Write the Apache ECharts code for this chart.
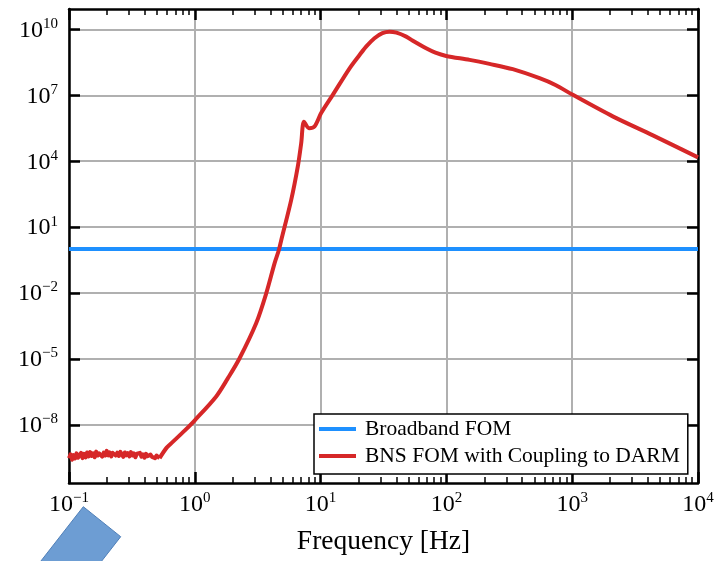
<!DOCTYPE html>
<html>
<head>
<meta charset="utf-8">
<script src="https://cdn.jsdelivr.net/npm/echarts@6/dist/echarts.min.js"></script>
<style>
  html, body { margin: 0; padding: 0; background: #fff; }
  #chart { width: 721px; height: 561px; }
</style>
</head>
<body>
<div id="chart"></div>
<script>
// Frequency in Hz, figures of merit as plain (linear) values
const broadbandFreq = [0.1, 10000];
const broadbandFom = [1, 1];

// Low-frequency noise floor of the BNS figure of merit
const noiseFreq = [
  0.1000, 0.1028, 0.1057, 0.1086, 0.1117, 0.1148, 0.1180, 0.1213, 0.1247, 0.1282,
  0.1318, 0.1355, 0.1393, 0.1432, 0.1472, 0.1514, 0.1556, 0.1600, 0.1644, 0.1690,
  0.1738, 0.1786, 0.1837, 0.1888, 0.1941, 0.1995, 0.2051, 0.2109, 0.2168, 0.2228,
  0.2291, 0.2355, 0.2421, 0.2489, 0.2559, 0.2630, 0.2704, 0.2780, 0.2858, 0.2938,
  0.3020, 0.3105, 0.3192, 0.3281, 0.3373, 0.3467, 0.3565, 0.3664, 0.3767, 0.3873,
  0.3981, 0.4093, 0.4207, 0.4325, 0.4446, 0.4571, 0.4699, 0.4831, 0.4966, 0.5105, 0.5248
];
const noiseFom = [
  3.02e-10, 4.47e-10, 2.57e-10, 4.17e-10, 2.95e-10, 5.01e-10, 3.16e-10, 4.17e-10, 5.25e-10, 3.02e-10,
  4.79e-10, 3.31e-10, 5.50e-10, 3.63e-10, 5.75e-10, 3.80e-10, 5.01e-10, 3.31e-10, 6.03e-10, 3.98e-10,
  5.01e-10, 6.17e-10, 3.55e-10, 5.37e-10, 3.98e-10, 6.46e-10, 4.07e-10, 5.50e-10, 3.63e-10, 5.25e-10,
  6.17e-10, 3.98e-10, 5.37e-10, 3.80e-10, 5.89e-10, 4.47e-10, 3.47e-10, 5.50e-10, 4.07e-10, 5.13e-10,
  3.63e-10, 5.75e-10, 3.98e-10, 5.01e-10, 3.31e-10, 4.79e-10, 3.98e-10, 5.25e-10, 3.55e-10, 4.47e-10,
  3.16e-10, 4.79e-10, 3.72e-10, 3.16e-10, 4.37e-10, 3.47e-10, 4.07e-10, 3.02e-10, 3.98e-10, 3.24e-10, 3.02e-10
];

// Rise, resonance near 7.5 Hz, broad peak and high-frequency roll-off
const bnsFreq = [
  0.5248, 0.596, 0.668, 0.83, 1.0, 1.48, 1.83, 2.27, 3.08, 3.70, 4.31,
  4.66, 4.87, 5.84, 6.59, 7.01, 7.38, 8.09, 8.94, 10.1, 12.5,
  17.0, 20.4, 23.0, 26.8, 31.0, 35.3, 40.1, 47.9, 53.7, 69,
  81.8, 99.6, 153, 220, 337, 550, 736, 1011, 2100, 4380, 10000
];
const bnsFom = [
  3.02e-10, 8.9e-10, 1.66e-9, 5.4e-9, 1.6e-8, 1.95e-7, 1.3e-6, 1.07e-5, 4.3e-4, 9.8e-3, 0.23,
  0.91, 2.6, 174, 5.8e3, 6.6e4, 6.2e5, 3.2e5, 3.8e5, 1.55e6, 1.05e7,
  1.7e8, 6.9e8, 1.66e9, 4.0e9, 6.8e9, 7.9e9, 7.1e9, 4.7e9, 3.1e9, 1.38e9,
  8.7e8, 6.2e8, 4.1e8, 2.7e8, 1.55e8, 6.0e7, 2.95e7, 1.05e7, 1.1e6, 1.5e5, 1.5e4
];

// Tick layout (decade exponents)
const xDecades = [-1, 0, 1, 2, 3, 4];
const yLabelExponents = [-8, -5, -2, 1, 4, 7, 10];
const minorMultipliers = [2, 3, 4, 5, 6, 7, 8, 9];
const xRange = [-1, 4];
const yRange = [-10.65, 10.93];

const FONT = "'Liberation Serif', 'Times New Roman', serif";
const toLog = (xs, ys) => xs.map((x, i) => [Math.log10(x), Math.log10(ys[i])]);

const minorTicks = [];
xDecades.slice(0, -1).forEach(d => minorMultipliers.forEach(m => minorTicks.push(d + Math.log10(m))));

function powerLabel(v) {
  const n = Math.round(v);
  const exp = n < 0 ? '\u2212' + (-n) : String(n);
  return '{b|10}{s|' + exp + '}';
}
const richPow = {
  b: { fontFamily: FONT, fontSize: 24, lineHeight: 26, color: '#000', verticalAlign: 'bottom' },
  s: { fontFamily: FONT, fontSize: 15, lineHeight: 15, color: '#000', verticalAlign: 'top' }
};

const frameLine = { show: true, onZero: false, lineStyle: { color: '#000', width: 2.5 } };
const majorTick = { show: true, inside: true, length: 11, lineStyle: { color: '#000', width: 2.5 } };
const minorTick = { show: true, inside: true, length: 6, lineStyle: { color: '#000', width: 1.5 } };
const grid = { show: true, lineStyle: { color: '#b0b0b0', width: 2 } };

function xAxisMajor(position, withLabels) {
  return {
    type: 'value', position, min: xRange[0], max: xRange[1], interval: 1,
    axisLine: frameLine, axisTick: majorTick,
    axisLabel: withLabels
      ? { show: true, margin: 8, formatter: powerLabel, rich: richPow }
      : { show: false },
    splitLine: withLabels ? grid : { show: false },
    name: withLabels ? 'Frequency [Hz]' : '',
    nameLocation: 'middle', nameGap: 45,
    nameTextStyle: { fontFamily: FONT, fontSize: 27.5, color: '#000' }
  };
}
function xAxisMinor(position) {
  return {
    type: 'value', position, min: xRange[0], max: xRange[1],
    axisLine: { show: false, onZero: false },
    axisTick: Object.assign({ customValues: minorTicks }, minorTick),
    axisLabel: { show: false }, splitLine: { show: false }
  };
}
function yAxis(position, withLabels) {
  return {
    type: 'value', position, min: yRange[0], max: yRange[1],
    axisLine: frameLine,
    axisTick: Object.assign({ customValues: yLabelExponents }, majorTick),
    axisLabel: withLabels
      ? { show: true, margin: 11, customValues: yLabelExponents, formatter: powerLabel, rich: richPow }
      : { show: false },
    splitLine: withLabels ? grid : { show: false }
  };
}

const RED = '#d62728';
const BLUE = '#1e90ff';
const BNS = 'BNS FOM with Coupling to DARM';

const chart = echarts.init(document.getElementById('chart'), null, { renderer: 'canvas' });
chart.setOption({
  animation: false,
  backgroundColor: '#fff',
  grid: { left: 69, right: 23, top: 9, bottom: 78, containLabel: false },
  xAxis: [xAxisMajor('bottom', true), xAxisMinor('bottom'), xAxisMajor('top', false), xAxisMinor('top')],
  yAxis: [yAxis('left', true), yAxis('right', false)],
  legend: {
    left: 314, top: 414, orient: 'vertical',
    backgroundColor: '#fff', borderColor: '#000', borderWidth: 1.5, borderRadius: 0,
    padding: [4, 8, 7, 5], itemGap: 5, itemWidth: 37, itemHeight: 4, icon: 'rect',
    selectedMode: false,
    textStyle: { fontFamily: FONT, fontSize: 21.5, color: '#000', padding: [0, 0, 0, 4] },
    data: ['Broadband FOM', BNS]
  },
  series: [
    {
      name: 'Broadband FOM', type: 'line', xAxisIndex: 0, yAxisIndex: 0,
      data: toLog(broadbandFreq, broadbandFom), showSymbol: false, symbol: 'none',
      lineStyle: { color: BLUE, width: 4 }, itemStyle: { color: BLUE }, z: 3
    },
    {
      name: BNS, type: 'line', xAxisIndex: 0, yAxisIndex: 0,
      data: toLog(noiseFreq, noiseFom), showSymbol: false, symbol: 'none',
      lineStyle: { color: RED, width: 4, join: 'round' },
      itemStyle: { color: RED }, z: 4
    },
    {
      name: BNS, type: 'line', xAxisIndex: 0, yAxisIndex: 0,
      data: toLog(bnsFreq, bnsFom), showSymbol: false, symbol: 'none', smooth: 0.3,
      lineStyle: { color: RED, width: 4, join: 'round' },
      itemStyle: { color: RED }, z: 4
    }
  ],
  graphic: [{
    type: 'polygon', z: 100,
    shape: { points: [[83.3, 506.7], [120.7, 536.7], [90.8, 575], [30, 575]] },
    style: { fill: '#6d9dd3', stroke: '#4f7fb8', lineWidth: 1 }
  }]
});
</script>
</body>
</html>
